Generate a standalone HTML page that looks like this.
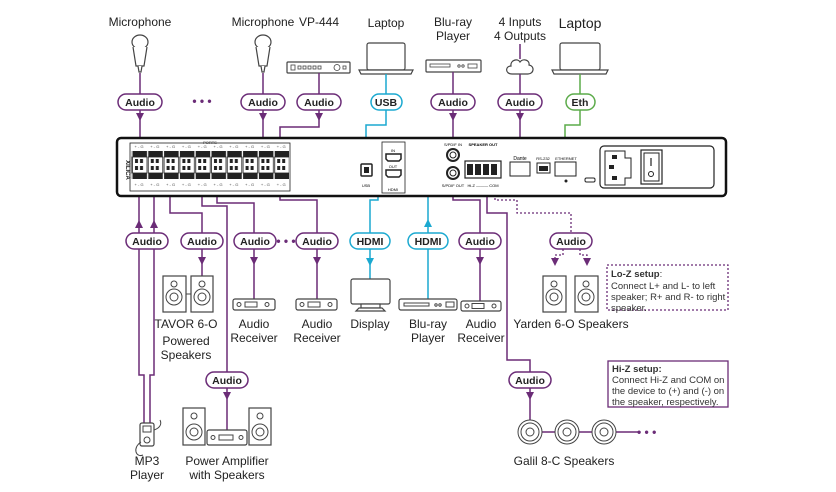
<!DOCTYPE html>
<html><head><meta charset="utf-8">
<style>
html,body{margin:0;padding:0;background:#fff;}
svg{display:block;font-family:"Liberation Sans",sans-serif;}
.lbl{font-size:12px;fill:#222;text-anchor:middle;}
.bt{font-size:10.5px;font-weight:bold;text-anchor:middle;fill:#222;}
.p{stroke:#6b2c77;stroke-width:1.5;fill:none;}
.c{stroke:#1ba9d0;stroke-width:1.5;fill:none;}
.g{stroke:#5cab4a;stroke-width:1.5;fill:none;}
.d{stroke:#6b2c77;stroke-width:1.3;fill:none;stroke-dasharray:2,2;}
.ic{stroke:#444;stroke-width:1.2;fill:#fff;}
.note{font-size:9.5px;fill:#333;}
.ap{fill:#6b2c77;}
.acy{fill:#1ba9d0;}
</style></head><body>
<svg width="836" height="492" viewBox="0 0 836 492" xmlns="http://www.w3.org/2000/svg">
<defs>
<pattern id="tb" x="132" y="0" width="15.8" height="200" patternUnits="userSpaceOnUse">
<rect x="0.5" y="151" width="14.5" height="6" fill="#222"/>
<rect x="0.5" y="157" width="14.5" height="16" fill="#fff" stroke="#222" stroke-width="0.8"/>
<rect x="3" y="159" width="3" height="4" fill="#222"/><rect x="8" y="159" width="3" height="4" fill="#222"/>
<rect x="3" y="166" width="3" height="4" fill="#222"/><rect x="8" y="166" width="3" height="4" fill="#222"/>
<rect x="0.5" y="173" width="14.5" height="6" fill="#222"/>
<text x="7" y="148" font-size="4" text-anchor="middle" fill="#444">+ - G</text>
<text x="7" y="186" font-size="4" text-anchor="middle" fill="#444">+ - G</text>
</pattern>
</defs>

<!-- TOP LABELS -->
<text class="lbl" x="140" y="26">Microphone</text>
<text class="lbl" x="263" y="26">Microphone</text>
<text class="lbl" x="319" y="26">VP-444</text>
<text class="lbl" x="386" y="27">Laptop</text>
<text class="lbl" x="453" y="26">Blu-ray</text>
<text class="lbl" x="453" y="40">Player</text>
<text class="lbl" x="520" y="26">4 Inputs</text>
<text class="lbl" x="520" y="40">4 Outputs</text>
<text class="lbl" x="580" y="28" style="font-size:14px">Laptop</text>

<!-- mics -->
<g class="ic">
<ellipse cx="140" cy="42" rx="8" ry="7"/><path d="M133,47 L136,66 L144,66 L147,47"/><path d="M138,66 L139,72 L141,72 L142,66"/>
<ellipse cx="263" cy="42" rx="8" ry="7"/><path d="M256,47 L259,66 L267,66 L270,47"/><path d="M261,66 L262,72 L264,72 L265,66"/>
</g>
<!-- VP-444 -->
<rect class="ic" x="287" y="62" width="63" height="11" rx="1"/>
<g fill="none" stroke="#444" stroke-width="0.8"><rect x="291" y="65" width="4" height="5"/><rect x="298" y="66" width="3" height="3"/><rect x="303" y="66" width="3" height="3"/><rect x="308" y="66" width="3" height="3"/><rect x="313" y="66" width="3" height="3"/><rect x="318" y="66" width="3" height="3"/><circle cx="337" cy="67.5" r="3"/><rect x="343" y="66" width="3" height="3"/></g>
<!-- laptops -->
<g class="ic">
<rect x="367" y="43" width="38" height="27" rx="2"/><path d="M359,70 L413,70 L411,74 L361,74 z"/>
<rect x="560" y="43" width="40" height="27" rx="2"/><path d="M552,70 L608,70 L606,74 L554,74 z"/>
<rect x="426" y="60" width="55" height="12" rx="1"/>
</g>
<g stroke="#444" fill="none" stroke-width="0.8"><rect x="430" y="64" width="20" height="3"/><circle cx="459" cy="66" r="1.2"/><circle cx="463" cy="66" r="1.2"/><rect x="468" y="64" width="9" height="4"/></g>
<!-- cloud -->
<path class="ic" d="M512,74 C505,74 505,66 511,66 C510,60 518,58 520,62 C523,58 530,60 529,65 C535,66 534,74 528,74 z"/>
<line class="p" x1="520" y1="44" x2="520" y2="59"/>

<!-- top connectors -->
<path class="p" d="M140,73 V138"/><polygon class="ap" points="136,113 144,113 140,121"/>
<path class="p" d="M263,73 V138"/><polygon class="ap" points="259,113 267,113 263,121"/>
<path class="p" d="M319,73 V127 H280 V138"/><polygon class="ap" points="315,113 323,113 319,121"/>
<path class="c" d="M386,74 V125 H366 V165"/>
<path class="p" d="M453,72 V150"/><polygon class="ap" points="449,113 457,113 453,121"/>
<path class="p" d="M520,74 V160"/><polygon class="ap" points="516,113 524,113 520,121"/>
<path class="g" d="M580,74 V125 H565 V160"/>
<text x="202" y="105" font-size="12" font-weight="bold" fill="#6b2c77" text-anchor="middle">• • •</text>

<!-- top badges -->
<g stroke-width="1.5" fill="#fff">
<rect x="118" y="94" width="44" height="16" rx="8" stroke="#6b2c77"/>
<rect x="241" y="94" width="44" height="16" rx="8" stroke="#6b2c77"/>
<rect x="297" y="94" width="44" height="16" rx="8" stroke="#6b2c77"/>
<rect x="371" y="94" width="31" height="16" rx="8" stroke="#1ba9d0"/>
<rect x="431" y="94" width="44" height="16" rx="8" stroke="#6b2c77"/>
<rect x="498" y="94" width="44" height="16" rx="8" stroke="#6b2c77"/>
<rect x="566" y="94" width="29" height="16" rx="8" stroke="#5cab4a"/>
</g>
<text class="bt" x="140" y="106">Audio</text><text class="bt" x="263" y="106">Audio</text><text class="bt" x="319" y="106">Audio</text>
<text class="bt" x="386" y="106">USB</text><text class="bt" x="453" y="106">Audio</text><text class="bt" x="520" y="106">Audio</text><text class="bt" x="580" y="106">Eth</text>

<!-- bottom connectors -->
<path class="p" d="M139,196 V375 H144 V423"/><polygon class="ap" points="135,228 143,228 139,220"/>
<path class="p" d="M154,196 V375 H150 V423"/><polygon class="ap" points="150,228 158,228 154,220"/>
<path class="p" d="M170,196 V213 H202 V276"/><polygon class="ap" points="198,257 206,257 202,265"/>
<path class="p" d="M202,196 V206 H227 V432"/><polygon class="ap" points="223,392 231,392 227,400"/>
<path class="p" d="M217,196 V203 H254 V300"/><polygon class="ap" points="250,257 258,257 254,265"/>
<path class="p" d="M280,196 V200 H317 V300"/><polygon class="ap" points="313,257 321,257 317,265"/>
<text x="286" y="245" font-size="12" font-weight="bold" fill="#6b2c77" text-anchor="middle">• • •</text>
<path class="c" d="M378,165 V200 H370 V279"/><polygon class="acy" points="366,258 374,258 370,266"/>
<path class="c" d="M428,299 V161 H410"/><polygon class="acy" points="424,227 432,227 428,219"/>
<path class="p" d="M453,180 V200 H480 V301"/><polygon class="ap" points="476,257 484,257 480,265"/>
<path class="p" d="M487,180 V213 H507 V360 H530 V420"/><polygon class="ap" points="526,392 534,392 530,400"/>
<path class="d" d="M495,186 V200 H517 V213 H571 V233"/>
<path class="d" d="M563,249 V255 H555 V262"/><polygon class="ap" points="551,258 559,258 555,266"/>
<path class="d" d="M580,249 V255 H587 V262"/><polygon class="ap" points="583,258 591,258 587,266"/>

<!-- bottom badges -->
<g stroke-width="1.5" fill="#fff">
<rect x="126" y="233" width="42" height="16" rx="8" stroke="#6b2c77"/>
<rect x="181" y="233" width="42" height="16" rx="8" stroke="#6b2c77"/>
<rect x="234" y="233" width="42" height="16" rx="8" stroke="#6b2c77"/>
<rect x="296" y="233" width="42" height="16" rx="8" stroke="#6b2c77"/>
<rect x="350" y="233" width="40" height="16" rx="8" stroke="#1ba9d0"/>
<rect x="408" y="233" width="40" height="16" rx="8" stroke="#1ba9d0"/>
<rect x="459" y="233" width="42" height="16" rx="8" stroke="#6b2c77"/>
<rect x="550" y="233" width="42" height="16" rx="8" stroke="#6b2c77"/>
<rect x="206" y="372" width="42" height="16" rx="8" stroke="#6b2c77"/>
<rect x="509" y="372" width="42" height="16" rx="8" stroke="#6b2c77"/>
</g>
<text class="bt" x="147" y="245">Audio</text><text class="bt" x="202" y="245">Audio</text><text class="bt" x="255" y="245">Audio</text><text class="bt" x="317" y="245">Audio</text>
<text class="bt" x="370" y="245">HDMI</text><text class="bt" x="428" y="245">HDMI</text><text class="bt" x="480" y="245">Audio</text><text class="bt" x="571" y="245">Audio</text>
<text class="bt" x="227" y="384">Audio</text><text class="bt" x="530" y="384">Audio</text>

<!-- DEVICE -->
<rect x="117" y="138" width="609" height="58" rx="4" fill="#fff" stroke="#111" stroke-width="2.5"/>
<rect x="130" y="143" width="160" height="48" fill="#fff" stroke="#222" stroke-width="0.8"/>
<rect x="131" y="140" width="158" height="50" fill="url(#tb)"/>
<text x="0" y="0" font-size="6" font-weight="bold" transform="translate(126,170) rotate(90)" text-anchor="middle" fill="#222">XILICA</text>
<text x="210" y="144" font-size="4" fill="#222" text-anchor="middle">PORTS</text>
<rect x="361" y="164" width="11" height="12" rx="1" fill="#fff" stroke="#222" stroke-width="1.5"/><rect x="364" y="167" width="5" height="6" fill="#222"/>
<text x="366" y="187" font-size="4" text-anchor="middle">USB</text>
<rect x="382" y="142" width="23" height="51" fill="#fff" stroke="#222" stroke-width="0.8"/>
<path d="M386,154 h15 v5 l-2,2 h-11 l-2,-2z" fill="#fff" stroke="#222" stroke-width="1.5"/>
<path d="M386,170 h15 v5 l-2,2 h-11 l-2,-2z" fill="#fff" stroke="#222" stroke-width="1.5"/>
<text x="393" y="152" font-size="4" text-anchor="middle">IN</text><text x="393" y="168" font-size="4" text-anchor="middle">OUT</text>
<text x="393" y="191" font-size="4" text-anchor="middle">HDMI</text>
<circle cx="453" cy="155" r="6" fill="#fff" stroke="#222" stroke-width="2"/><circle cx="453" cy="155" r="3" fill="#fff" stroke="#222"/>
<circle cx="453" cy="173" r="6" fill="#fff" stroke="#222" stroke-width="2"/><circle cx="453" cy="173" r="3" fill="#fff" stroke="#222"/>
<text x="453" y="146" font-size="4" text-anchor="middle">S/PDIF IN</text><text x="453" y="187" font-size="4" text-anchor="middle">S/PDIF OUT</text>
<text x="483" y="146" font-size="4" text-anchor="middle" font-weight="bold">SPEAKER OUT</text>
<rect x="465" y="161" width="36" height="17" fill="#fff" stroke="#222" stroke-width="1.2"/>
<g fill="#222"><rect x="467" y="164" width="6" height="11"/><rect x="475" y="164" width="6" height="11"/><rect x="483" y="164" width="6" height="11"/><rect x="491" y="164" width="6" height="11"/></g>
<text x="483" y="187" font-size="4" text-anchor="middle">Hi-Z ——— COM</text>
<text x="520" y="160" font-size="5" text-anchor="middle">Dante</text>
<rect x="510" y="162" width="20" height="14" fill="#fff" stroke="#222" stroke-width="1"/>
<text x="543" y="160" font-size="4" text-anchor="middle">RS-232</text>
<rect x="537" y="163" width="13" height="10" fill="#fff" stroke="#222"/><rect x="539" y="166" width="9" height="5" fill="#222"/>
<text x="566" y="160" font-size="4" text-anchor="middle">ETHERNET</text>
<rect x="555" y="162" width="21" height="14" fill="#fff" stroke="#222" stroke-width="1"/>
<circle cx="566" cy="181" r="1.5" fill="#222"/>
<rect x="585" y="178" width="10" height="4" rx="1.5" fill="#fff" stroke="#222"/>
<rect x="600" y="146" width="114" height="42" rx="4" fill="#fff" stroke="#222" stroke-width="1.2"/>
<path d="M605,151 h20 v7 h6 v20 h-6 v7 h-20z" fill="#fff" stroke="#222"/>
<rect x="612" y="155" width="5" height="4" fill="#222"/><rect x="609" y="165" width="5" height="4" fill="#222"/><rect x="612" y="176" width="5" height="4" fill="#222"/>
<rect x="641" y="150" width="21" height="34" fill="#fff" stroke="#222" stroke-width="1.2"/>
<rect x="644" y="153" width="15" height="28" fill="#fff" stroke="#222"/>
<line x1="651" y1="158" x2="651" y2="166" stroke="#222" stroke-width="1.2"/><circle cx="651" cy="174" r="2.5" fill="none" stroke="#222"/>

<!-- bottom icons -->
<g class="ic">
<rect x="163" y="276" width="23" height="36"/><rect x="191" y="276" width="22" height="36"/>
<rect x="233" y="299" width="42" height="11" rx="2"/><rect x="296" y="299" width="41" height="11" rx="2"/>
<rect x="351" y="279" width="39" height="25" rx="2"/><rect x="361" y="304" width="19" height="4"/><path d="M356,311 L385,311 L382,308 L359,308 z"/>
<rect x="399" y="299" width="58" height="11" rx="2"/>
<rect x="461" y="301" width="40" height="10" rx="2"/>
<rect x="543" y="276" width="23" height="36"/><rect x="575" y="276" width="23" height="36"/>
<rect x="183" y="408" width="22" height="37"/><rect x="249" y="408" width="22" height="37"/><rect x="207" y="430" width="40" height="15" rx="2"/>
<rect x="140" y="423" width="14" height="23" rx="2"/>
</g>
<g fill="none" stroke="#444" stroke-width="1">
<circle cx="174" cy="297" r="8"/><circle cx="174" cy="297" r="4"/><circle cx="174" cy="284" r="3"/>
<circle cx="202" cy="297" r="8"/><circle cx="202" cy="297" r="4"/><circle cx="202" cy="284" r="3"/>
<line x1="186" y1="294" x2="191" y2="294"/>
<circle cx="554" cy="297" r="8"/><circle cx="554" cy="297" r="4"/><circle cx="554" cy="284" r="3"/>
<circle cx="586" cy="297" r="8"/><circle cx="586" cy="297" r="4"/><circle cx="586" cy="284" r="3"/>
<circle cx="194" cy="432" r="8"/><circle cx="194" cy="432" r="4"/><circle cx="194" cy="416" r="3"/>
<circle cx="260" cy="432" r="8"/><circle cx="260" cy="432" r="4"/><circle cx="260" cy="416" r="3"/>
<circle cx="239" cy="304.5" r="2"/><rect x="245" y="302" width="12" height="5"/><circle cx="267" cy="304.5" r="2"/>
<circle cx="302" cy="304.5" r="2"/><rect x="308" y="302" width="12" height="5"/><circle cx="330" cy="304.5" r="2"/>
<circle cx="467" cy="306" r="2"/><rect x="472" y="303.5" width="12" height="5"/><circle cx="494" cy="306" r="2"/>
<circle cx="213" cy="437.5" r="2"/><rect x="219" y="435" width="14" height="5"/><circle cx="241" cy="437.5" r="2"/>
<rect x="404" y="303" width="25" height="3"/><circle cx="436" cy="305" r="1.2"/><circle cx="440" cy="305" r="1.2"/><rect x="446" y="302" width="8" height="5"/>
<rect x="143" y="426" width="8" height="6"/><circle cx="147" cy="440" r="3"/>
<path d="M141,442 C132,448 136,458 143,455"/><path d="M154,430 C160,428 162,424 160,420"/>
</g>
<!-- Galil -->
<g fill="#fff" stroke="#444" stroke-width="1">
<line x1="531" y1="432" x2="640" y2="432" stroke="#6b2c77" stroke-width="1.5"/>
<circle cx="530" cy="432" r="12"/><circle cx="530" cy="432" r="9"/><circle cx="530" cy="432" r="4"/>
<circle cx="567" cy="432" r="12"/><circle cx="567" cy="432" r="9"/><circle cx="567" cy="432" r="4"/>
<circle cx="604" cy="432" r="12"/><circle cx="604" cy="432" r="9"/><circle cx="604" cy="432" r="4"/>
</g>
<text x="637" y="436" font-size="12" font-weight="bold" fill="#6b2c77">• • •</text>

<!-- bottom labels -->
<text class="lbl" x="186" y="328">TAVOR 6-O</text><text class="lbl" x="186" y="345">Powered</text><text class="lbl" x="186" y="359">Speakers</text>
<text class="lbl" x="254" y="328">Audio</text><text class="lbl" x="254" y="342">Receiver</text>
<text class="lbl" x="317" y="328">Audio</text><text class="lbl" x="317" y="342">Receiver</text>
<text class="lbl" x="370" y="328">Display</text>
<text class="lbl" x="428" y="328">Blu-ray</text><text class="lbl" x="428" y="342">Player</text>
<text class="lbl" x="481" y="328">Audio</text><text class="lbl" x="481" y="342">Receiver</text>
<text class="lbl" x="571" y="328">Yarden 6-O Speakers</text>
<text class="lbl" x="147" y="465">MP3</text><text class="lbl" x="147" y="479">Player</text>
<text class="lbl" x="227" y="465">Power Amplifier</text><text class="lbl" x="227" y="479">with Speakers</text>
<text class="lbl" x="564" y="465">Galil 8-C Speakers</text>

<!-- notes -->
<rect x="607" y="265" width="121" height="45" fill="#fff" stroke="#6b2c77" stroke-width="1.3" stroke-dasharray="2,2"/>
<text class="note" x="611" y="277"><tspan font-weight="bold">Lo-Z setup</tspan>:</text>
<text class="note" x="611" y="289">Connect L+ and L- to left</text>
<text class="note" x="611" y="300">speaker; R+ and R- to right</text>
<text class="note" x="611" y="311">speaker.</text>
<rect x="608" y="361" width="120" height="46" fill="#fff" stroke="#6b2c77" stroke-width="1.3"/>
<text class="note" x="612" y="372" font-weight="bold">Hi-Z setup:</text>
<text class="note" x="612" y="383">Connect Hi-Z and COM on</text>
<text class="note" x="612" y="394">the device to (+)  and (-) on</text>
<text class="note" x="612" y="405">the speaker, respectively.</text>
</svg>
</body></html>
